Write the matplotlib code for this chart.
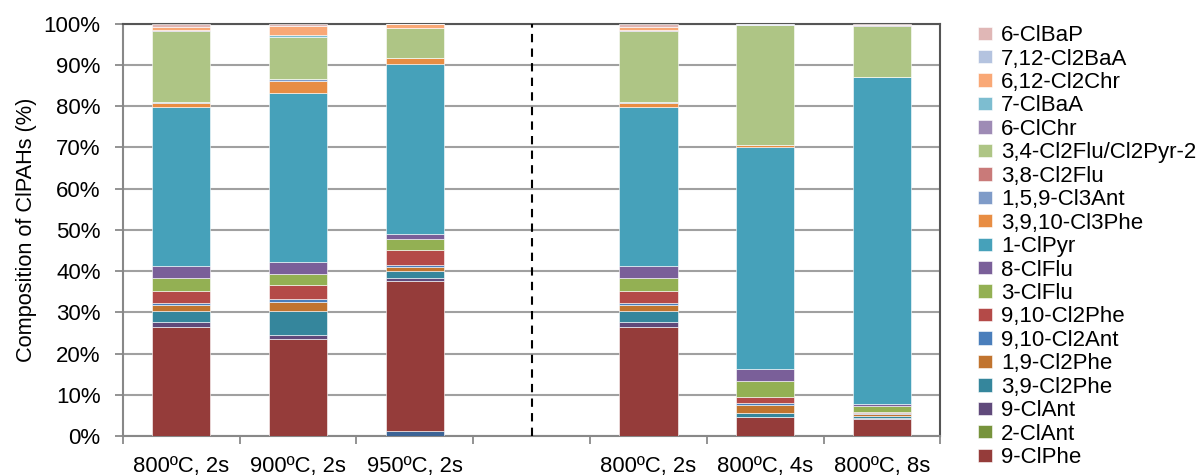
import numpy as np
import matplotlib.pyplot as plt

plt.rcParams['font.family'] = ['Liberation Sans', 'DejaVu Sans']

cats = ['800ºC, 2s', '900ºC, 2s', '950ºC, 2s', '', '800ºC, 2s', '800ºC, 4s', '800ºC, 8s']

# composition (%) per compound, bottom of the stack first
other        = [0.0, 0.0, 1.2, 0, 0.0, 0.0, 0.0]
cl_phe9      = [26.5, 23.5, 36.3, 0, 26.5, 4.5, 4.1]
cl_ant2      = [0.0, 0.0, 0.0, 0, 0.0, 0.0, 0.0]
cl_ant9      = [1.1, 1.1, 0.8, 0, 1.1, 0.2, 0.3]
cl2_phe39    = [2.7, 5.7, 1.8, 0, 2.7, 1.0, 0.5]
cl2_phe19    = [1.5, 2.3, 0.8, 0, 1.5, 1.8, 0.4]
cl2_ant910   = [0.5, 0.7, 0.6, 0, 0.5, 0.5, 0.2]
cl2_phe910   = [3.0, 3.4, 3.6, 0, 3.0, 1.5, 0.4]
cl_flu3      = [3.0, 2.7, 2.6, 0, 3.0, 3.8, 1.5]
cl_flu8      = [3.0, 2.7, 1.2, 0, 3.0, 3.0, 0.4]
cl_pyr1      = [38.4, 41.2, 41.4, 0, 38.4, 53.9, 79.3]
cl3_phe3910  = [1.0, 2.8, 1.5, 0, 1.0, 0.3, 0.1]
cl3_ant159   = [0.4, 0.5, 0.0, 0, 0.4, 0.0, 0.0]
cl2_flu38    = [0.0, 0.0, 0.0, 0, 0.0, 0.0, 0.0]
cl2_flu34    = [17.2, 10.2, 7.1, 0, 17.2, 29.2, 12.2]
cl_chr6      = [0.3, 0.0, 0.0, 0, 0.3, 0.0, 0.3]
cl_baa7      = [0.0, 0.4, 0.0, 0, 0.0, 0.0, 0.0]
cl2_chr612   = [0.6, 2.2, 1.1, 0, 0.6, 0.0, 0.0]
cl2_baa712   = [0.1, 0.0, 0.0, 0, 0.1, 0.3, 0.0]
cl_bap6      = [0.7, 0.6, 0.0, 0, 0.7, 0.0, 0.3]

series = [
    ('_nolegend_', other, '#3c6496'),
    ('9-ClPhe', cl_phe9, '#953c3a'),
    ('2-ClAnt', cl_ant2, '#77933c'),
    ('9-ClAnt', cl_ant9, '#604a7b'),
    ('3,9-Cl2Phe', cl2_phe39, '#35869c'),
    ('1,9-Cl2Phe', cl2_phe19, '#c1742f'),
    ('9,10-Cl2Ant', cl2_ant910, '#4a7ebb'),
    ('9,10-Cl2Phe', cl2_phe910, '#b44a48'),
    ('3-ClFlu', cl_flu3, '#93b053'),
    ('8-ClFlu', cl_flu8, '#7a5f99'),
    ('1-ClPyr', cl_pyr1, '#46a1ba'),
    ('3,9,10-Cl3Phe', cl3_phe3910, '#e88d43'),
    ('1,5,9-Cl3Ant', cl3_ant159, '#7f9bc8'),
    ('3,8-Cl2Flu', cl2_flu38, '#c97a79'),
    ('3,4-Cl2Flu/Cl2Pyr-2', cl2_flu34, '#aec585'),
    ('6-ClChr', cl_chr6, '#9e8bb5'),
    ('7-ClBaA', cl_baa7, '#7dbdd0'),
    ('6,12-Cl2Chr', cl2_chr612, '#f9a876'),
    ('7,12-Cl2BaA', cl2_baa712, '#b4c3df'),
    ('6-ClBaP', cl_bap6, '#e0b7b6'),
]

fig = plt.figure(figsize=(12.04, 4.76), dpi=100)
ax = fig.add_axes([0.102, 0.084, 0.679, 0.866])

x = np.arange(len(cats))
bottom = np.zeros(len(cats))
handles = []
for name, vals, col in series:
    v = np.array(vals, dtype=float)
    b = ax.bar(x, v, 0.5, bottom=bottom, color=col, edgecolor='white',
               linewidth=0.4, label=name, zorder=3)
    bottom += v
    if not name.startswith('_'):
        handles.append(b)

ax.set_xlim(-0.5, 6.5)
ax.set_ylim(0, 100)
ax.set_yticks(np.arange(0, 101, 10))
ax.set_yticklabels(['%d%%' % t for t in range(0, 101, 10)])
ax.yaxis.grid(True, color='#a0a0a0', linewidth=1.5, zorder=0)
ax.set_axisbelow(True)

ax.set_xticks(x)
ax.set_xticklabels(cats)
ax.set_xticks(np.arange(-0.5, 7, 1), minor=True)
ax.tick_params(axis='x', which='major', length=0, pad=14.5, labelsize=15.8)
ax.tick_params(axis='x', which='minor', length=6, color='#808080', width=1.2)
ax.tick_params(axis='y', length=6, color='#808080', width=1.2, labelsize=16, pad=10)

for s in ['left', 'bottom']:
    ax.spines[s].set_color('#888888')
    ax.spines[s].set_linewidth(1.5)
for s in ['top', 'right']:
    ax.spines[s].set_color('#555555')
    ax.spines[s].set_linewidth(1.5)

ax.axvline(3, color='black', linestyle=(0, (4, 3)), linewidth=1.5, zorder=4)

ax.set_ylabel('Composition of ClPAHs (%)', fontsize=15.7, labelpad=5)

fig.legend(handles[::-1], [h.get_label() for h in handles[::-1]],
           loc='upper left', bbox_to_anchor=(0.805, 0.966), frameon=False,
           fontsize=16, handlelength=0.63, handleheight=0.55, handletextpad=0.4,
           labelspacing=0.11, borderaxespad=0)

fig.savefig('out.png', dpi=100)
